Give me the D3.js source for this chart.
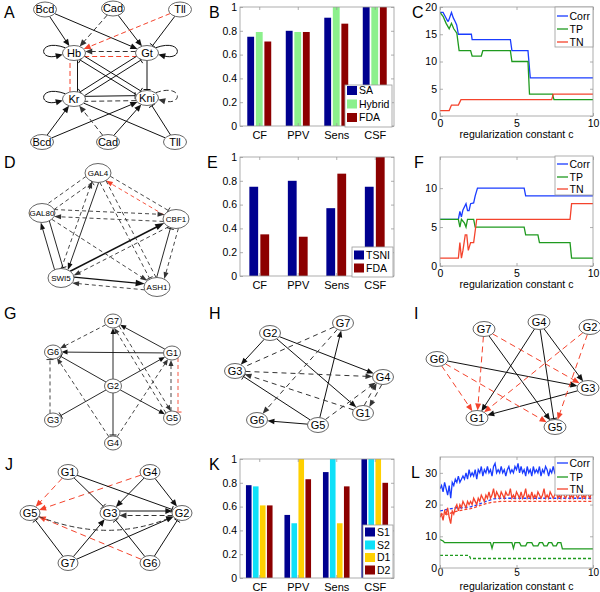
<!DOCTYPE html>
<html><head><meta charset="utf-8">
<script src="https://cdnjs.cloudflare.com/ajax/libs/d3/7.8.5/d3.min.js"></script>
<style>body{margin:0;background:#fff}svg{display:block}text{font-family:"Liberation Sans",Arial,sans-serif}</style>
</head><body><svg id="c" width="600" height="592"></svg>
<script>
// ---------------- DATA ----------------
const barCats = ["CF","PPV","Sens","CSF"];
const barTicks = [0,0.2,0.4,0.6,0.8,1];
const B_series = ["SA","Hybrid","FDA"];
const B_SA = [0.75,0.80,0.91,1.00];
const B_Hybrid = [0.79,0.79,1.00,1.00];
const B_FDA = [0.71,0.79,0.86,1.00];
const E_series = ["TSNI","FDA"];
const E_TSNI = [0.75,0.80,0.57,0.75];
const E_FDA = [0.35,0.33,0.86,1.00];
const K_series = ["S1","S2","D1","D2"];
const K_S1 = [0.78,0.53,0.89,1.00];
const K_S2 = [0.77,0.46,1.00,1.00];
const K_D1 = [0.61,1.00,0.46,1.00];
const K_D2 = [0.61,0.83,0.77,0.80];

const lineSeries = ["Corr","TP","TN"];
const xTicksC = [0,5,10];
const C_yTicks = [0,5,10,15,20];
const C_c_corr = [0,0.2,0.35,0.5,0.55,0.75,0.87,0.98,1.09,1.2,2.05,2.1,4.6,4.7,5.75,5.9,10];
const C_corr   = [19,19,18.2,17.4,17.4,19,18,17.4,16.7,15,15,14,14,12,12,7,7];
const C_c_tp = [0,0.2,0.4,0.6,0.75,0.9,1.1,1.25,2.0,2.1,2.7,2.8,4.6,4.7,5.75,5.85,7.35,7.45,10];
const C_tp   = [19,18.3,17,16,17,16,15.2,12,12,11,11,12,12,10,10,4,4,3,3];
const C_c_tn = [0,0.6,0.75,1.2,1.37,7.3,7.4,10];
const C_tn   = [1,1,2,2,3,3,4,4];

const F_yTicks = [0,5,10];
const F_c_corr = [0,1.2,1.3,1.4,1.5,1.7,1.8,1.9,2.0,2.2,2.3,2.45,5.5,5.6,10];
const F_corr   = [6,6,7,6.3,7.2,8,7.1,7.1,8,8.1,9,10,10,9,9];
const F_c_tp = [0,1.2,1.3,1.4,1.6,1.7,1.8,2.2,2.3,5.5,5.6,6.4,6.5,8.5,8.6,10];
const F_tp   = [6,6,5,6,5.5,5,6,6,5,5,4,4,3,3,1,1];
const F_c_tn = [0,1.2,1.3,1.4,1.5,1.65,1.75,1.85,2.0,2.2,2.4,8.5,8.6,10];
const F_tn   = [1,1,3,1,2,4,4,2,3,3,6,6,8,8];

const L_yTicks = [0,10,20,30];
const L_c = [0,0.1,0.2,0.3,0.4,0.5,0.6,0.7,0.8,0.9,1,1.1,1.2,1.3,1.4,1.5,1.6,1.7,1.8,1.9,
 2,2.1,2.2,2.3,2.4,2.5,2.6,2.7,2.8,2.9,3,3.1,3.2,3.3,3.4,3.5,3.6,3.7,3.8,3.9,
 4,4.1,4.2,4.3,4.4,4.5,4.6,4.7,4.8,4.9,5,5.1,5.2,5.3,5.4,5.5,5.6,5.7,5.8,5.9,
 6,6.1,6.2,6.3,6.4,6.5,6.6,6.7,6.8,6.9,7,7.1,7.2,7.3,7.4,7.5,7.6,7.7,7.8,7.9,
 8,8.1,8.2,8.3,8.4,8.5,8.6,8.7,8.8,8.9,9,9.1,9.2,9.3,9.4,9.5,9.6,9.7,9.8,9.9,10];
const L_corr = [25,26,24,27,25,23,26,22,27,26, 28,27,29,27,28,29,28,30,28,31,
 29,30,29,31,28,31,30,32,29,31, 30,32,30,31,29,32,33,30,31,30,
 32,30,31,29,31,32,30,31,30,32, 31,33,30,32,30,31,29,32,30,31,
 29,32,30,31,30,32,29,31,30,32, 31,29,31,30,32,30,31,29,31,30,
 32,30,31,29,31,30,32,30,31,30, 31,29,32,30,31,30,29,31,30,29, 31];
const L_tn = [16,17,15,18,17,19,16,14,18,17, 19,20,18,20,19,21,20,19,21,20,
 21,20,22,21,20,22,21,23,22,21, 23,22,24,22,23,25,22,24,23,22,
 24,23,22,24,23,23,25,22,23,22, 24,23,22,24,22,23,25,22,23,22,
 24,22,23,22,24,23,22,23,25,22, 23,22,24,23,22,23,24,22,23,22,
 24,23,22,23,24,22,23,22,24,23, 22,23,24,22,23,22,24,23,22,24, 25];
const L_c_tp = [0,0.2,0.3,3.3,3.4,3.5,4.7,4.8,4.9,5.2,5.3,5.6,5.7,6.0,6.1,6.4,6.5,6.7,6.8,7.0,7.1,7.3,7.4,7.6,7.7,7.9,8.0,10];
const L_tp   = [9,8.5,8,8,6.2,8,8,6.2,8,8,7,7,8,8,7,7,8,8,7,7,8,8,7,7,8,8,6,6];
const L_c_base = [0,0.5,1,1.5,2,2.5,3,3.5,4,10];
const L_corr_base = [18,18.5,19,19,19.3,20,21,21.8,22,22];
const L_tn_base   = [17,17,17.8,18.3,18.7,19.5,20.3,20.8,21,21];
const L_c_tpb = [0,1.9,2.0,10];
const L_tp_base = [4,4,3,3];

// networks: nodes [id,label], edges [source,target,head(a|t|n),style(s|d|r),offset,extra]
const netA_nodes = [["Bcd1","Bcd"],["Cad1","Cad"],["Tll1","Tll"],["Hb","Hb"],["Gt","Gt"],["Kr","Kr"],["Kni","Kni"],["Bcd2","Bcd"],["Cad2","Cad"],["Tll2","Tll"]];
const netA_edges = [
 ["Bcd1","Hb","a","s"],["Bcd1","Gt","a","s"],["Cad1","Hb","a","d"],["Cad1","Gt","a","s"],
 ["Tll1","Hb","a","r"],["Tll1","Gt","t","s"],
 ["Hb","Hb","a","s","L"],["Gt","Gt","a","s","R"],["Kr","Kr","a","s","L"],["Kni","Kni","a","d","R"],
 ["Gt","Hb","a","d",[0,-1.5]],["Hb","Gt","n","r",[0,3.5]],["Kr","Hb","n","r",[-4,0]],
 ["Kr","Hb","n","s",[3.5,0]],["Gt","Kni","t","s"],
 ["Gt","Kr","t","s",[-2,-2]],["Kr","Gt","t","s",[2,2]],
 ["Hb","Kni","t","s",[2,-2]],["Kni","Hb","t","s",[-2,2]],
 ["Kr","Kni","t","s",[0,-2.5]],["Kni","Kr","n","d",[0,2.5]],
 ["Bcd2","Kr","a","s"],["Bcd2","Kni","a","s"],["Cad2","Kr","a","d"],["Cad2","Kni","a","s"],
 ["Tll2","Kr","n","s"],["Tll2","Kni","t","s"]
];
const netD_nodes = [["GAL4","GAL4"],["GAL80","GAL80"],["CBF1","CBF1"],["SWI5","SWI5"],["ASH1","ASH1"]];
const netD_edges = [
 ["GAL4","SWI5","a","s",[4,0]],["SWI5","GAL4","a","d",[-3,0]],
 ["SWI5","GAL80","a","s",[-4,0]],["GAL80","SWI5","t","s",[5,0]],
 ["SWI5","CBF1","a","s",[0,-2],{lw:1.5,big:1}],["CBF1","SWI5","a","d",[0,4]],
 ["SWI5","ASH1","a","s",[0,-2],{lw:1.3,big:1}],["ASH1","SWI5","a","d",[0,4]],
 ["ASH1","CBF1","t","s",[-3,0]],["CBF1","ASH1","a","d",[5,0]],
 ["CBF1","GAL4","a","r",[0,3]],["GAL4","CBF1","t","d",[0,-4]],
 ["GAL80","CBF1","a","d",[0,-4]],["CBF1","GAL80","a","d",[0,3]],
 ["GAL4","GAL80","n","d",[-3,-3]],["GAL80","GAL4","t","d",[3,3]],
 ["GAL4","ASH1","t","d",[-3,0]],["ASH1","GAL4","n","d",[4,0]],
 ["GAL80","ASH1","a","d"]
];
const netG_nodes = [["G7","G7"],["G6","G6"],["G1","G1"],["G2","G2"],["G3","G3"],["G5","G5"],["G4","G4"]];
const netG_edges = [
 ["G2","G7","a","s"],["G1","G7","a","s"],["G1","G6","a","s"],["G2","G6","t","s"],["G2","G1","a","s"],
 ["G2","G5","a","s"],["G2","G3","t","s"],["G2","G4","t","s"],
 ["G7","G6","a","d"],["G5","G7","a","d",[-3,0]],["G7","G5","a","d",[3,0]],["G4","G6","a","d"],
 ["G4","G1","a","d"],["G5","G1","a","d",[-1,0]],["G1","G5","t","r",[6,0]],["G3","G6","t","d",[-3,0]]
];
const netH_nodes = [["G7","G7"],["G2","G2"],["G3","G3"],["G4","G4"],["G1","G1"],["G6","G6"],["G5","G5"]];
const netH_edges = [
 ["G2","G3","a","s"],["G2","G4","a","s"],["G2","G1","a","s"],["G5","G7","a","s"],["G5","G6","a","s"],["G5","G3","t","s"],
 ["G7","G3","n","d"],["G7","G6","a","d"],["G3","G4","a","d"],["G1","G3","a","d"],["G5","G4","a","d"],
 ["G1","G4","a","d",[-3,0]],["G4","G1","a","d",[3,0]]
];
const netI_nodes = [["G7","G7"],["G4","G4"],["G2","G2"],["G6","G6"],["G3","G3"],["G1","G1"],["G5","G5"]];
const netI_edges = [
 ["G4","G1","a","s"],["G4","G5","t","s"],["G4","G3","a","s"],["G7","G5","a","s"],["G6","G3","a","s"],["G3","G1","a","s"],
 ["G7","G1","a","r"],["G6","G1","a","r"],["G6","G5","a","r"],["G7","G3","a","r"],["G2","G1","a","r"],["G2","G5","a","r"]
];
const netJ_nodes = [["G1","G1"],["G4","G4"],["G5","G5"],["G3","G3"],["G2","G2"],["G7","G7"],["G6","G6"]];
const netJ_edges = [
 ["G1","G5","a","r"],["G4","G5","a","r"],["G6","G5","a","r"],
 ["G1","G3","t","s"],["G1","G2","t","s"],["G4","G3","a","s"],["G4","G2","a","s"],
 ["G3","G2","a","s",[0,-2]],["G2","G3","a","d",[0,2.5]],["G5","G2","a","d",[0,0],{bend:30}],
 ["G7","G5","t","s"],["G7","G3","a","s"],["G7","G2","a","s"],["G6","G3","t","s"],["G6","G2","t","s"]
];

// ---------------- LAYOUT / STYLE ----------------
const RED = "#f4432c";
const AXC = "#9a9a9a";
const FONT = '"Liberation Sans",Arial,sans-serif';
const svg = d3.select("#c");

function letter(t,x,y){ svg.append("text").attr("x",x).attr("y",y).attr("font-size",16).text(t); }

function styleAxis(sel, fs){
  sel.select(".domain").remove();
  sel.selectAll(".tick line").attr("stroke",AXC).attr("stroke-width",0.8);
  sel.selectAll(".tick text").attr("fill","#000").attr("font-size",fs).attr("font-family",FONT);
}

function frame(g, x, y, xt, xfmt, yt, yfmt, xpad, fsx){
  const [x0,x1]=x.range(), [y1,y0]=y.range();
  g.append("g").attr("transform",`translate(0,${y1})`)
   .call(d3.axisBottom(x).tickValues(xt).tickFormat(xfmt).tickSizeInner(-3).tickSizeOuter(0).tickPadding(xpad))
   .call(s=>styleAxis(s,fsx));
  g.append("g").attr("transform",`translate(${x0},0)`)
   .call(d3.axisLeft(y).tickValues(yt).tickFormat(yfmt).tickSizeInner(-3).tickSizeOuter(0).tickPadding(3))
   .call(s=>styleAxis(s,10.5));
  g.append("g").attr("transform",`translate(0,${y0})`)
   .call(d3.axisTop(x).tickValues(xt).tickFormat("").tickSizeInner(-3).tickSizeOuter(0)).call(s=>styleAxis(s,10));
  g.append("g").attr("transform",`translate(${x1},0)`)
   .call(d3.axisRight(y).tickValues(yt).tickFormat("").tickSizeInner(-3).tickSizeOuter(0)).call(s=>styleAxis(s,10));
  g.append("rect").attr("x",x0).attr("y",y0).attr("width",x1-x0).attr("height",y1-y0)
   .attr("fill","none").attr("stroke",AXC).attr("stroke-width",0.8);
}

let clipId=0;
function barPanel(box, names, vals, colors, lg){
  const g = svg.append("g");
  const x = d3.scaleLinear().domain([0.5,4.5]).range([box.x0,box.x1]);
  const y = d3.scaleLinear().domain([0,1]).range([box.y1,box.y0]);
  const id="cl"+(clipId++);
  g.append("clipPath").attr("id",id).append("rect").attr("x",box.x0).attr("y",box.y0).attr("width",box.x1-box.x0).attr("height",box.y1-box.y0);
  const n = names.length, gw = Math.min(0.8, n/(n+1.5)), bw = gw/n*0.8;
  const bars = g.append("g").attr("clip-path",`url(#${id})`);
  vals.forEach((v,i)=>{
    bars.selectAll(null).data(v).join("rect")
      .attr("x",(d,j)=>x(j+1-gw/2+(2*i+1)*gw/(2*n)-bw/2))
      .attr("width",x(bw)-x(0))
      .attr("y",d=>y(d)).attr("height",d=>y(0)-y(d))
      .attr("fill",colors[i]);
  });
  frame(g,x,y,[1,2,3,4],(d)=>barCats[d-1],barTicks,d3.format("~g"),5,11);
  g.append("rect").attr("x",lg.x0).attr("y",lg.y0).attr("width",lg.x1-lg.x0).attr("height",lg.y1-lg.y0)
   .attr("fill","#fff").attr("stroke",AXC).attr("stroke-width",0.8);
  names.forEach((nm,i)=>{
    const yy = lg.ys[i];
    g.append("rect").attr("x",lg.x0+2).attr("y",yy-4.5).attr("width",10).attr("height",9).attr("fill",colors[i]);
    g.append("text").attr("x",lg.x0+14).attr("y",yy).attr("dy","0.35em").attr("font-size",10.5).text(nm);
  });
}

function linePanel(box, ymax, yt, series, lg, xpad, xlabY, fsx){
  const g = svg.append("g");
  const x = d3.scaleLinear().domain([0,10]).range([box.x0,box.x1]);
  const y = d3.scaleLinear().domain([0,ymax]).range([box.y1,box.y0]);
  const id="cl"+(clipId++);
  g.append("clipPath").attr("id",id).append("rect").attr("x",box.x0).attr("y",box.y0-1).attr("width",box.x1-box.x0).attr("height",box.y1-box.y0+2);
  const lines = g.append("g").attr("clip-path",`url(#${id})`);
  const gen = d3.line().x(d=>x(d[0])).y(d=>y(d[1]));
  series.forEach(s=>{
    lines.append("path").attr("d",gen(d3.zip(s.c,s.v))).attr("fill","none")
      .attr("stroke",s.color).attr("stroke-width",1.3).attr("stroke-dasharray",s.dash||null);
  });
  frame(g,x,y,xTicksC,d3.format("d"),yt,d3.format("d"),xpad,fsx||10.5);
  g.append("text").attr("x",(box.x0+box.x1)/2).attr("y",xlabY).attr("text-anchor","middle").attr("font-size",10.5).text("regularization constant c");
  g.append("rect").attr("x",lg.x0).attr("y",lg.y0).attr("width",lg.x1-lg.x0).attr("height",lg.y1-lg.y0)
   .attr("fill","#fff").attr("stroke",AXC).attr("stroke-width",0.8);
  lineSeries.forEach((nm,i)=>{
    const yy=lg.ys[i];
    g.append("line").attr("x1",lg.x0+2).attr("x2",lg.x0+13).attr("y1",yy).attr("y2",yy).attr("stroke",lg.colors[i]).attr("stroke-width",1.3);
    g.append("text").attr("x",lg.x0+14.5).attr("y",yy).attr("dy","0.35em").attr("font-size",10.5).text(nm);
  });
}

// ---- network drawing ----
function hit(p,d,c,rx,ry,far){
  const ox=(p[0]-c[0])/rx, oy=(p[1]-c[1])/ry, dx=d[0]/rx, dy=d[1]/ry;
  const A=dx*dx+dy*dy, B=2*(ox*dx+oy*dy), C=ox*ox+oy*oy-1, disc=B*B-4*A*C;
  if(disc<0) return null;
  const s=Math.sqrt(disc);
  return far?(-B+s)/(2*A):(-B-s)/(2*A);
}
function head(g, tip, from, kind, color, o, big){
  let ux=tip[0]-from[0], uy=tip[1]-from[1]; const L=Math.hypot(ux,uy); ux/=L; uy/=L;
  const nx=-uy, ny=ux;
  if(kind==="a"){
    const al=o.al*(big?1.3:1), aw=o.aw*(big?1.3:1);
    const bx=tip[0]-ux*al, by=tip[1]-uy*al;
    g.append("path").attr("d",`M${tip[0]},${tip[1]}L${bx+nx*aw/2},${by+ny*aw/2}L${bx-nx*aw/2},${by-ny*aw/2}Z`).attr("fill",color);
    return [bx+ux*1,by+uy*1];
  } else if(kind==="t"){
    const t=[tip[0]-ux*1,tip[1]-uy*1];
    g.append("line").attr("x1",t[0]+nx*3.5).attr("y1",t[1]+ny*3.5).attr("x2",t[0]-nx*3.5).attr("y2",t[1]-ny*3.5)
     .attr("stroke",color).attr("stroke-width",1);
    return t;
  }
  return tip;
}
function drawNet(nodes, layout, edges, o){
  const g = svg.append("g");
  const P = id=>layout[id];
  edges.forEach(e=>{
    const [s,t,hd,sty,off,ex] = e;
    const color = sty==="r"?RED:(sty==="s"?"#111":"#333");
    const dash = sty==="s"?null:(sty==="r"?o.rdash:o.dash);
    const lw = (ex&&ex.lw)||o.lw;
    const a=P(s), b=P(t);
    const mk = d=>g.append("path").attr("d",d).attr("fill","none").attr("stroke",color).attr("stroke-width",lw).attr("stroke-dasharray",dash);
    if(s===t){
      const sg = off==="L"?-1:1;
      const ex0=a[0]+sg*o.rx;
      const p0=[a[0]+sg*o.rx*0.75,a[1]-o.ry*0.7], p3=[a[0]+sg*o.rx*0.98,a[1]+o.ry*0.2];
      const c1=[ex0+sg*24,a[1]-15], c2=[ex0+sg*25,a[1]+8];
      const end = head(g,p3,c2,hd,color,o);
      mk(`M${p0}C${c1} ${c2} ${end}`);
      return;
    }
    const ox=off?off[0]:0, oy=off?off[1]:0;
    const p0=[a[0]+ox,a[1]+oy], p1=[b[0]+ox,b[1]+oy];
    if(ex&&ex.bend){
      const mx=(a[0]+b[0])/2, my=(a[1]+b[1])/2;
      let dx=b[0]-a[0], dy=b[1]-a[1]; const L=Math.hypot(dx,dy);
      const ctl=[mx+(-dy/L)*(-ex.bend)*(dx>0?-1:1), my+(dx/L)*ex.bend];
      const d1=[ctl[0]-a[0],ctl[1]-a[1]]; const t1=hit(a,d1,a,o.rx,o.ry,true);
      const st=[a[0]+t1*d1[0],a[1]+t1*d1[1]];
      const d2=[b[0]-ctl[0],b[1]-ctl[1]]; const t2=hit(ctl,d2,b,o.rx,o.ry,false);
      const en=[ctl[0]+t2*d2[0],ctl[1]+t2*d2[1]];
      const e2=head(g,en,ctl,hd,color,o);
      mk(`M${st}Q${ctl} ${e2}`);
      return;
    }
    const d=[p1[0]-p0[0],p1[1]-p0[1]];
    let ts=hit(p0,d,a,o.rx,o.ry,true); if(ts==null) ts=0.1;
    let tt=hit(p0,d,b,o.rx,o.ry,false); if(tt==null) tt=0.9;
    const st=[p0[0]+ts*d[0],p0[1]+ts*d[1]], en=[p0[0]+tt*d[0],p0[1]+tt*d[1]];
    const e2=head(g,en,st,hd,color,o,ex&&ex.big);
    mk(`M${st}L${e2}`);
  });
  const ng=g.selectAll("g.n").data(nodes).join("g").attr("transform",d=>`translate(${P(d[0])})`);
  ng.append("ellipse").attr("rx",o.rx).attr("ry",o.ry).attr("fill","#fff").attr("stroke","#555").attr("stroke-width",0.9);
  ng.append("text").attr("text-anchor","middle").attr("dy","0.36em").attr("font-size",o.fs).text(d=>d[1]);
}

// ---------------- DRAW ----------------
letter("A",4,18); letter("B",209,18); letter("C",412,18);
letter("D",4,168); letter("E",207,168); letter("F",414,168);
letter("G",4,319); letter("H",209,319); letter("I",414,319);
letter("J",5,470); letter("K",209,470); letter("L",411,478);

drawNet(netA_nodes,{Bcd1:[45,9.5],Cad1:[113,8.5],Tll1:[180,9.5],Hb:[74,53],Gt:[147,53],Kr:[74,99],Kni:[147,98],Bcd2:[42,142],Cad2:[108,142],Tll2:[175,142]},
  netA_edges,{rx:11.5,ry:7.5,fs:11,al:7,aw:6,lw:1,dash:"5,3",rdash:"5,3"});
drawNet(netD_nodes,{GAL4:[98,173],GAL80:[42,213],CBF1:[176,219],SWI5:[61,278],ASH1:[157,287]},
  netD_edges,{rx:13,ry:9.5,fs:8,al:7,aw:5,lw:0.9,dash:"4,3",rdash:"4,3"});
drawNet(netG_nodes,{G7:[113,321],G6:[53,352],G1:[172,353],G2:[113,386],G3:[53,420],G5:[172,418],G4:[113,443]},
  netG_edges,{rx:8.5,ry:7,fs:9,al:6,aw:5,lw:0.9,dash:"4,3",rdash:"4,3"});
drawNet(netH_nodes,{G7:[343,323],G2:[270,333],G3:[235,371],G4:[383,377],G1:[363,413],G6:[257,420],G5:[318,425]},
  netH_edges,{rx:10.5,ry:7.5,fs:11,al:7,aw:5.5,lw:1,dash:"5,4",rdash:"5,4"});
drawNet(netI_nodes,{G7:[484,329],G4:[539,322],G2:[590,327],G6:[437,359],G3:[588,388],G1:[477,418],G5:[555,427]},
  netI_edges,{rx:11,ry:7.5,fs:11,al:7,aw:6,lw:1,dash:"6,4",rdash:"6,4"});
drawNet(netJ_nodes,{G1:[68,472],G4:[150,472],G5:[30,513],G3:[110,513],G2:[182,513],G7:[68,563],G6:[150,563]},
  netJ_edges,{rx:10,ry:7.5,fs:11,al:7,aw:6,lw:1,dash:"5,3",rdash:"6,4"});

const cB = ["#00008f","#8cf08c","#8c0000"];
barPanel({x0:240,x1:394,y0:7,y1:126}, B_series, [B_SA,B_Hybrid,B_FDA], cB, {x0:345,x1:392,y0:85,y1:127,ys:[90.5,104,117.5]});
barPanel({x0:240,x1:394,y0:157,y1:276}, E_series, [E_TSNI,E_FDA], ["#00008f","#8c0000"], {x0:352,x1:393,y0:247,y1:277,ys:[255,268]});
barPanel({x0:240,x1:394,y0:459,y1:578}, K_series, [K_S1,K_S2,K_D1,K_D2], ["#00008f","#10e0f8","#ffd000","#8c0000"], {x0:363,x1:393,y0:525,y1:578,ys:[532,545,557.5,570]});

const BL="#1a3cff", GR="#1f9a1f";
linePanel({x0:440,x1:593,y0:7,y1:116},20,C_yTicks,[
  {c:C_c_corr,v:C_corr,color:BL},{c:C_c_tp,v:C_tp,color:GR},{c:C_c_tn,v:C_tn,color:RED}],
  {x0:555,x1:593,y0:7,y1:47,ys:[16,29,42],colors:[BL,GR,RED]},4,138);
linePanel({x0:440,x1:593,y0:157,y1:266},14,F_yTicks,[
  {c:F_c_corr,v:F_corr,color:BL},{c:F_c_tp,v:F_tp,color:GR},{c:F_c_tn,v:F_tn,color:RED}],
  {x0:555,x1:593,y0:156,y1:195,ys:[164,177,189],colors:[BL,GR,RED]},4,288);
linePanel({x0:440,x1:593,y0:457,y1:568},35,L_yTicks,[
  {c:L_c,v:L_corr,color:BL},{c:L_c_base,v:L_corr_base,color:BL,dash:"3,2"},
  {c:L_c_tp,v:L_tp,color:GR},{c:L_c_tpb,v:L_tp_base,color:GR,dash:"3,2"},
  {c:L_c,v:L_tn,color:RED},{c:L_c_base,v:L_tn_base,color:RED,dash:"3,2"}],
  {x0:555,x1:593,y0:457,y1:495,ys:[463,477,489],colors:[BL,GR,RED]},1,590,10);
</script></body></html>
